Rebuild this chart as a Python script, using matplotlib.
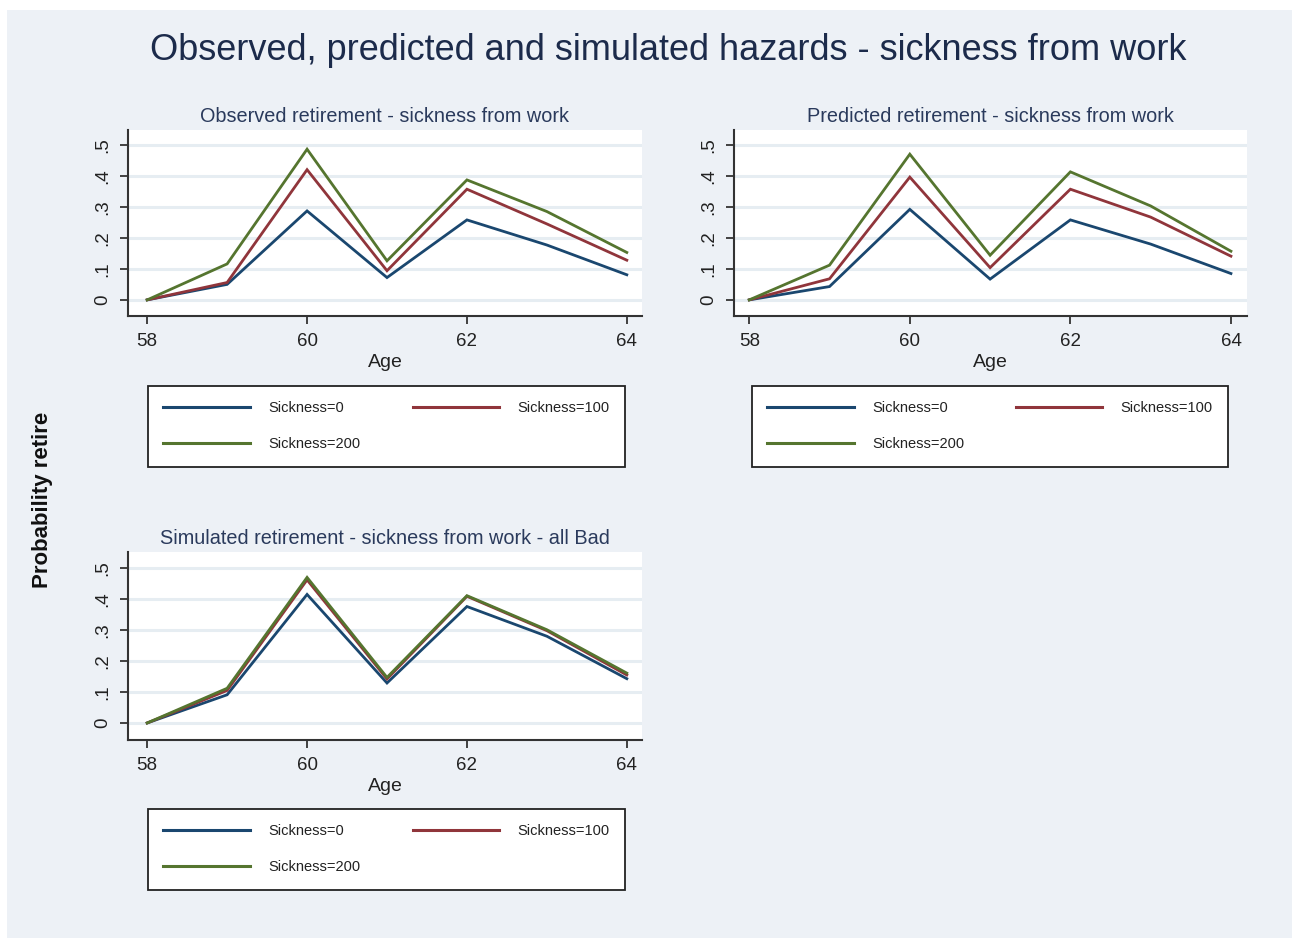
import matplotlib
matplotlib.use("Agg")
import matplotlib.pyplot as plt
from matplotlib.patches import Rectangle

plt.rcParams['font.family'] = ['Liberation Sans', 'DejaVu Sans']

# ---------------- data ----------------
ages = [58, 59, 60, 61, 62, 63, 64]
series_labels = ["Sickness=0", "Sickness=100", "Sickness=200"]

observed_s0 = [0.0, 0.050, 0.287, 0.072, 0.258, 0.177, 0.081]
observed_s100 = [0.0, 0.056, 0.420, 0.094, 0.357, 0.245, 0.128]
observed_s200 = [0.0, 0.116, 0.486, 0.126, 0.387, 0.285, 0.153]

predicted_s0 = [0.0, 0.043, 0.292, 0.067, 0.258, 0.180, 0.085]
predicted_s100 = [0.0, 0.068, 0.396, 0.104, 0.357, 0.267, 0.141]
predicted_s200 = [0.0, 0.112, 0.470, 0.144, 0.413, 0.303, 0.157]

simulated_s0 = [0.0, 0.091, 0.415, 0.129, 0.376, 0.280, 0.143]
simulated_s100 = [0.0, 0.105, 0.462, 0.142, 0.409, 0.298, 0.155]
simulated_s200 = [0.0, 0.112, 0.470, 0.147, 0.411, 0.301, 0.161]

panel_titles = ["Observed retirement - sickness from work",
                "Predicted retirement - sickness from work",
                "Simulated retirement - sickness from work - all Bad"]
main_title = "Observed, predicted and simulated hazards - sickness from work"
y_ticks = [0, 0.1, 0.2, 0.3, 0.4, 0.5]
y_ticklabels = ["0", ".1", ".2", ".3", ".4", ".5"]
x_ticks = [58, 60, 62, 64]

# ---------------- style ----------------
W, H = 1292, 938
colors = ['#1a476f', '#90353b', '#55752f']
bg = '#edf1f6'
navy = '#1c2b4b'

fig = plt.figure(figsize=(W / 100, H / 100), dpi=100)
fig.patch.set_facecolor('white')
fig.patches.append(Rectangle((7 / W, 0), 1 - 7 / W, 1 - 10 / H,
                             transform=fig.transFigure, facecolor=bg,
                             edgecolor='none', zorder=-10))


def fx(px):
    return px / W


def fy(py):
    return 1 - py / H


def make_panel(x0, x1, y0, y1, xlim, ylim, data, title, leg_box):
    ax = fig.add_axes([fx(x0), fy(y1), fx(x1 - x0), (y1 - y0) / H])
    ax.set_facecolor('white')
    for yv in y_ticks:
        ax.axhline(yv, color='#e6edf2', lw=2.2, zorder=0)
    handles = []
    for vals, c, lab in zip(data, colors, series_labels):
        h, = ax.plot(ages, vals, color=c, lw=2.0, label=lab,
                     solid_joinstyle='miter', zorder=3)
        handles.append(h)
    ax.set_xlim(*xlim)
    ax.set_ylim(*ylim)
    ax.set_xticks(x_ticks)
    ax.set_xticklabels([str(t) for t in x_ticks])
    ax.set_yticks(y_ticks)
    ax.set_yticklabels(y_ticklabels, rotation=90, va='center')
    for s in ['top', 'right']:
        ax.spines[s].set_visible(False)
    for s in ['left', 'bottom']:
        ax.spines[s].set_color('#333333')
        ax.spines[s].set_linewidth(1.5)
    ax.tick_params(axis='both', direction='out', length=6, width=1.3,
                   color='#333333', labelsize=13.5, labelcolor='#222222', pad=6)
    ax.set_xlabel("Age", fontsize=14, color='#222222', labelpad=3)
    fig.text(fx((x0 + x1) / 2), fy(y0 - 14), title, ha='center', va='center',
             fontsize=14.3, color='#2a3a5c')
    lx0, lx1, ly0, ly1 = leg_box
    # row-major order: Sickness=0, Sickness=100 / Sickness=200
    ordered = [handles[0], handles[2], handles[1]]
    leg = ax.legend(handles=ordered, loc='upper left', ncol=2, mode='expand',
                    bbox_to_anchor=(fx(lx0), fy(ly0), fx(lx1 - lx0), 0),
                    bbox_transform=fig.transFigure, borderaxespad=0,
                    fontsize=10.5, handlelength=5.95, handletextpad=1.25,
                    borderpad=1.05, labelspacing=1.5, frameon=True,
                    fancybox=False, edgecolor='#222222', facecolor='white',
                    framealpha=1)
    leg.get_frame().set_linewidth(1.3)
    for t in leg.get_texts():
        t.set_color('#222222')
    for ln in leg.get_lines():
        ln.set_linewidth(2.2)
    return ax


make_panel(128, 642, 130, 316, (57.76, 64.19), (-0.052, 0.548),
           [observed_s0, observed_s100, observed_s200], panel_titles[0],
           (148, 625, 386, 465))
make_panel(734, 1247, 130, 316, (57.81, 64.2), (-0.052, 0.548),
           [predicted_s0, predicted_s100, predicted_s200], panel_titles[1],
           (752, 1228, 386, 465))
make_panel(128, 642, 552, 740, (57.76, 64.19), (-0.055, 0.552),
           [simulated_s0, simulated_s100, simulated_s200], panel_titles[2],
           (148, 625, 809, 889))

fig.text(fx(668), fy(50), main_title, ha='center', va='center',
         fontsize=26, color=navy)
fig.text(fx(43), fy(500), "Probability retire", rotation=90, ha='center',
         va='center', fontsize=16, fontweight='bold', color='#111111')

fig.savefig("out.png", dpi=100, facecolor=fig.get_facecolor())
